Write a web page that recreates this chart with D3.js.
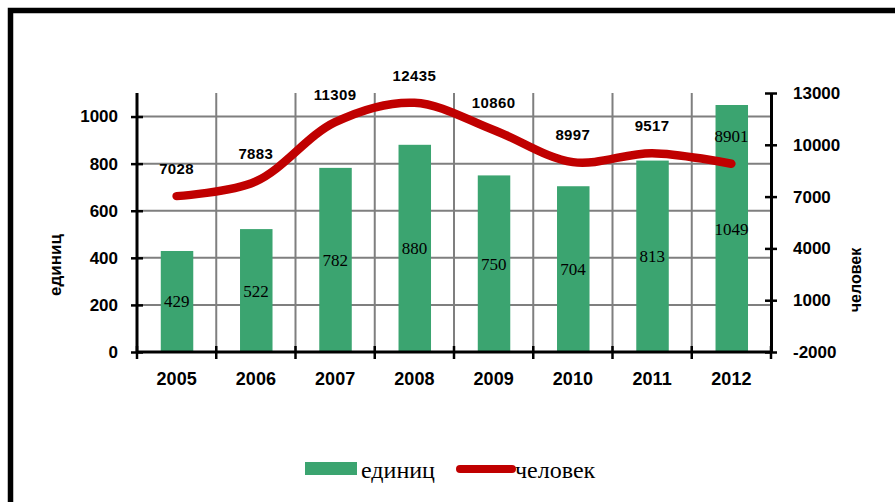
<!DOCTYPE html>
<html>
<head>
<meta charset="utf-8">
<script src="https://cdn.jsdelivr.net/npm/d3@7"></script>
<style>
  body { margin: 0; background: #fff; }
  svg { display: block; }
</style>
</head>
<body>
<div id="chart"></div>
<script>
// данные
var years = ['2005', '2006', '2007', '2008', '2009', '2010', '2011', '2012']
var units = [429, 522, 782, 880, 750, 704, 813, 1049]      // единиц
var people = [7028, 7883, 11309, 12435, 10860, 8997, 9517, 8901] // человек
var leftTicks = [0, 200, 400, 600, 800, 1000]
var rightTicks = [-2000, 1000, 4000, 7000, 10000, 13000]

var W = 895, H = 502
var m = {top: 93, right: 124, bottom: 150, left: 137}
var w = W - m.left - m.right, h = H - m.top - m.bottom

var svg = d3.select('#chart').append('svg')
	.attr('width', W).attr('height', H)

// рамка
svg.append('path')
	.attr('d', 'M10.5,' + H + 'V10.5H' + W)
	.attr('fill', 'none').attr('stroke', '#000').attr('stroke-width', 5.5)

var g = svg.append('g').attr('transform', 'translate(' + m.left + ',' + m.top + ')')

var x = d3.scaleBand().domain(years).range([0, w])
var yL = d3.scaleLinear().domain([0, 1100]).range([h, 0])
var yR = d3.scaleLinear().domain([-2000, 13000]).range([h, 0])

var sans = 'Liberation Sans, Arial, sans-serif'
var serif = 'Liberation Serif, Times New Roman, serif'
var fmt = function(d){ return String(d) }

// сетка
g.append('g').selectAll('line').data(leftTicks.slice(1)).enter().append('line')
	.attr('x1', 0).attr('x2', w)
	.attr('y1', function(d){ return yL(d) }).attr('y2', function(d){ return yL(d) })
	.attr('stroke', '#7f7f7f').attr('stroke-width', 2)
g.append('g').selectAll('line').data(years.slice(1)).enter().append('line')
	.attr('x1', function(d){ return x(d) }).attr('x2', function(d){ return x(d) })
	.attr('y1', 0).attr('y2', h)
	.attr('stroke', '#7f7f7f').attr('stroke-width', 2)

// столбцы
g.append('g').selectAll('rect').data(units).enter().append('rect')
	.attr('x', function(d, i){ return x(years[i]) + x.bandwidth() * 0.3 })
	.attr('width', x.bandwidth() * 0.41)
	.attr('y', function(d){ return yL(d) })
	.attr('height', function(d){ return yL(0) - yL(d) })
	.attr('fill', '#3ba470')

g.append('g').selectAll('text').data(units).enter().append('text')
	.attr('x', function(d, i){ return x(years[i]) + x.bandwidth() / 2 })
	.attr('y', function(d){ return (yL(d) + yL(0)) / 2 + 6 })
	.attr('text-anchor', 'middle')
	.style('font', '17px ' + serif)
	.text(function(d){ return d })

// линия
var line = d3.line()
	.x(function(d, i){ return x(years[i]) + x.bandwidth() / 2 })
	.y(function(d){ return yR(d) })
	.curve(d3.curveCatmullRom.alpha(0.5))

g.append('path').datum(people)
	.attr('d', line)
	.attr('fill', 'none')
	.attr('stroke', '#c00000')
	.attr('stroke-width', 8.5)
	.attr('stroke-linecap', 'round')

g.append('g').selectAll('text').data(people).enter().append('text')
	.attr('x', function(d, i){ return x(years[i]) + x.bandwidth() / 2 })
	.attr('y', function(d){ return yR(d) - 22 })
	.attr('text-anchor', 'middle')
	.style('font', function(d, i){ return i == people.length - 1 ? '17px ' + serif : 'bold 15px ' + sans })
	.style('letter-spacing', function(d, i){ return i == people.length - 1 ? '0' : '0.4px' })
	.text(function(d){ return d })

// оси
function crossTicks(sel){
	sel.select('.domain').attr('stroke-width', 3)
	sel.selectAll('.tick line').attr('stroke-width', 2.5).attr('x1', -6).attr('x2', 6)
	sel.selectAll('.tick text').style('font', 'bold 17px ' + sans).attr('fill', '#000')
}

var axL = g.append('g')
	.call(d3.axisLeft(yL).tickValues(leftTicks).tickFormat(fmt).tickSizeOuter(0).tickPadding(13))
crossTicks(axL)
axL.select('.domain').attr('d', 'M0,' + h + 'V0')

var axR = g.append('g').attr('transform', 'translate(' + w + ',0)')
	.call(d3.axisRight(yR).tickValues(rightTicks).tickFormat(fmt).tickSizeOuter(0).tickPadding(16))
crossTicks(axR)

var axB = g.append('g').attr('transform', 'translate(0,' + h + ')')
	.call(d3.axisBottom(x).tickSize(0).tickPadding(20))
axB.select('.domain').attr('stroke-width', 3).attr('d', 'M0,0H' + w)
axB.selectAll('.tick text').style('font', 'bold 18px ' + sans).attr('fill', '#000')
axB.append('g').selectAll('line').data(years.concat(['end'])).enter().append('line')
	.attr('x1', function(d, i){ return i * x.step() }).attr('x2', function(d, i){ return i * x.step() })
	.attr('y1', -6).attr('y2', 7)
	.attr('stroke', '#000').attr('stroke-width', 2.5)

// подписи осей
svg.append('text')
	.attr('transform', 'translate(61,265) rotate(-90)')
	.attr('text-anchor', 'middle')
	.style('font', 'bold 17px ' + sans)
	.text('единиц')
svg.append('text')
	.attr('transform', 'translate(861,280) rotate(-90)')
	.attr('text-anchor', 'middle')
	.style('font', 'bold 16px ' + sans)
	.text('человек')

// легенда
var lg = svg.append('g')
lg.append('rect').attr('x', 305).attr('y', 462).attr('width', 52).attr('height', 13).attr('fill', '#3ba470')
lg.append('text').attr('x', 361).attr('y', 478).style('font', '24px ' + serif).text('единиц')
lg.append('line').attr('x1', 460).attr('x2', 512).attr('y1', 469).attr('y2', 469)
	.attr('stroke', '#c00000').attr('stroke-width', 8).attr('stroke-linecap', 'round')
lg.append('text').attr('x', 515).attr('y', 478).style('font', '24px ' + serif).text('человек')
</script>
</body>
</html>
